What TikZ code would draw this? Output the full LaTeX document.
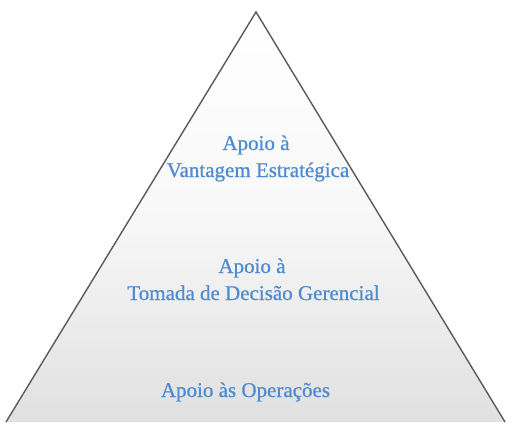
\documentclass[tikz,border=0pt]{standalone}
\usepackage{fontspec}
\setmainfont{Liberation Serif}
\newfontfamily\lblfont[FakeBold=0.7]{Liberation Serif}
\definecolor{txtblue}{HTML}{4F8BCF}
\definecolor{edgegray}{HTML}{5A5A5A}
\begin{document}
\begin{tikzpicture}[x=1pt,y=-1pt,
  lbl/.style={text=txtblue, font=\lblfont\fontsize{21}{27}\selectfont, anchor=base, inner sep=0pt}]
\useasboundingbox (0,0) rectangle (522,432);
\coordinate (apex) at (256,12);
\coordinate (bl) at (6,422);
\coordinate (br) at (505,422);
\shade[top color=white, bottom color=gray!24, middle color=gray!6] (apex) -- (br) -- (bl) -- cycle;
\draw[edgegray, line width=1.4pt, line join=miter] (bl) -- (apex) -- (br);
\node[lbl] (t1) at (256,150) {Apoio à};
\node[lbl] (t2) at (258,177) {Vantagem Estratégica};
\node[lbl] (m1) at (252,273) {Apoio à};
\node[lbl] (m2) at (253.5,300) {Tomada de Decisão Gerencial};
\node[lbl] (b1) at (245.5,397) {Apoio às Operações};
\end{tikzpicture}
\end{document}
